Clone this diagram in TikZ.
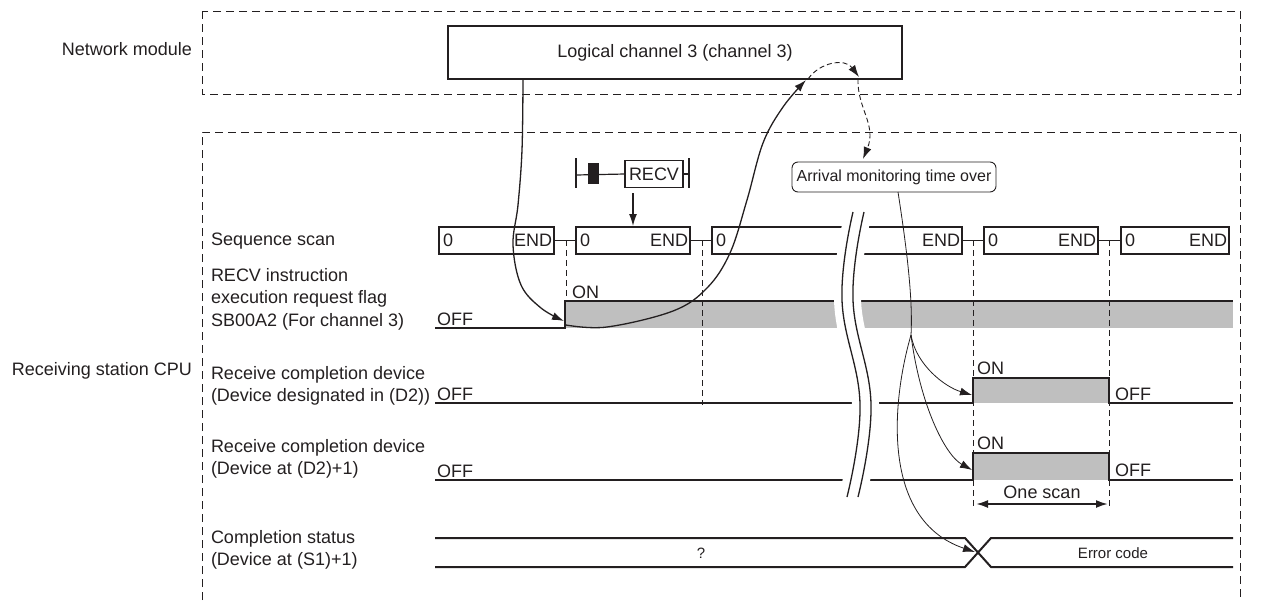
\documentclass[tikz,border=0pt]{standalone}
\usepackage{fontspec}
\setmainfont{Liberation Sans}
\usetikzlibrary{arrows.meta}
\definecolor{sg}{gray}{0.75}
\definecolor{ink}{HTML}{231F20}
\begin{document}
\begin{tikzpicture}[x=1pt,y=-1pt,
  every node/.style={inner sep=0pt, outer sep=0pt, text=ink},
  lbl/.style={font=\fontsize{18}{22.5}\selectfont},
  smalltxt/.style={font=\fontsize{15}{18}\selectfont},
  frame/.style={draw=ink, dash pattern=on 8pt off 5pt, line width=1},
  tdash/.style={draw=ink, dash pattern=on 6pt off 4pt, line width=0.9},
  scanbox/.style={draw=ink, line width=1.2, minimum height=27pt, anchor=north west},
  sig/.style={draw=ink, line width=2},
  arr/.style={draw=ink, -{Latex[length=12pt,width=8pt]}, line width=1.3},
  thinarr/.style={draw=ink, -{Latex[length=12pt,width=8pt]}, line width=0.8},
  thinl/.style={draw=ink, line width=0.8},
  dasharr/.style={draw=ink, dash pattern=on 5pt off 3pt, line width=0.9, -{Latex[length=12pt,width=8pt]}},
]
\useasboundingbox (0,0) rectangle (1272,603);

% frames
\draw[frame] (202,11) rectangle (1240,94);
\draw[frame] (202,600) -- (202,132) -- (1240,132) -- (1240,600);

% left titles
\node[lbl, anchor=base east] (nm) at (192,55) {Network module};
\node[lbl, anchor=base east] (rcpu) at (192,375) {Receiving station CPU};

\node[lbl, anchor=base west] (l1) at (211,245) {Sequence scan};
\node[lbl, anchor=base west] (l2a) at (211,281) {RECV instruction};
\node[lbl, anchor=base west] (l2b) at (211,303.5) {execution request flag};
\node[lbl, anchor=base west] (l2c) at (211,326) {SB00A2 (For channel 3)};
\node[lbl, anchor=base west] (l3a) at (211,379) {Receive completion device};
\node[lbl, anchor=base west] (l3b) at (211,401.5) {(Device designated in (D2))};
\node[lbl, anchor=base west] (l4a) at (211,452) {Receive completion device};
\node[lbl, anchor=base west] (l4b) at (211,474.5) {(Device at (D2)+1)};
\node[lbl, anchor=base west] (l5a) at (211,543) {Completion status};
\node[lbl, anchor=base west] (l5b) at (211,565.5) {(Device at (S1)+1)};

% logical channel box
\node[draw=ink, line width=1.3, minimum width=454pt, minimum height=53pt, lbl] (lc) at (675,52.5) {Logical channel 3 (channel 3)};

% arrival monitoring box
\node[draw=ink, rounded corners=6pt, line width=0.9, minimum width=204pt, minimum height=30pt, font=\fontsize{16}{19}\selectfont] (amt) at (894,177) {Arrival monitoring time over};

% sequence scan boxes
\node[scanbox, minimum width=115pt] (s1) at (439,227) {};
\node[scanbox, minimum width=114pt] (s2) at (576,227) {};
\node[scanbox, minimum width=250pt] (s3) at (712,227) {};
\node[scanbox, minimum width=114pt] (s4) at (984,227) {};
\node[scanbox, minimum width=108pt] (s5) at (1121,227) {};
\foreach \b in {s1,s2,s3,s4,s5}{
  \node[lbl, anchor=west] (\b z) at ([xshift=4pt]\b.west) {0};
}
\foreach \b in {s1,s2,s3,s4,s5}{
  \node[lbl, anchor=east] (\b e) at ([xshift=-2pt]\b.east) {END};
}
\draw[ink, line width=1.2] (s1.east) -- (s2.west);
\draw[ink, line width=1.2] (s2.east) -- (s3.west);
\draw[ink, line width=1.2] (s3.east) -- (s4.west);
\draw[ink, line width=1.6] (s4.east) -- (s5.west);

% RECV ladder symbol
\coordinate (ra) at (576,175);
\draw[ink, line width=1.6] (576,158) -- (576,188);
\fill[ink] (588,163) rectangle (599,184);
\node[draw=ink, line width=1.2, minimum width=58pt, minimum height=27pt, lbl, anchor=west] (recv) at (625,174) {RECV};
\draw[ink, line width=1.2] (ra) -- (recv.west);
\coordinate (rb) at (689,174);
\draw[ink, line width=1.2] (recv.east) -- (rb);
\draw[ink, line width=1.6] (689,158) -- (689,188);
\coordinate (ra1) at (633,193);
\coordinate (ra2) at (633,226);
\draw[arr] (ra1) -- (ra2);

% signals
\fill[sg] (565,301) rectangle (1233,328);
\draw[sig] (435,328) -- (565,328) -- (565,301) -- (1233,301);
\fill[sg] (973,378) rectangle (1109,403);
\draw[sig] (435,403) -- (973,403) -- (973,378) -- (1109,378) -- (1109,403) -- (1233,403);
\fill[sg] (973,453) rectangle (1109,480);
\draw[sig] (435,480) -- (973,480) -- (973,453) -- (1109,453) -- (1109,480) -- (1233,480);
\draw[sig] (435,538) -- (965,538) -- (991,567) -- (1233,567);
\draw[sig] (435,567) -- (965,567) -- (991,538) -- (1233,538);
\node[smalltxt] (q) at (701,553) {?};
\node[smalltxt] (err) at (1113,553) {Error code};

% ON/OFF labels
\node[lbl, anchor=base west] (off1) at (437,325) {OFF};
\node[lbl, anchor=base west] (on1) at (572,298) {ON};
\node[lbl, anchor=base west] (off2) at (437,400) {OFF};
\node[lbl, anchor=base west] (on2) at (977,374) {ON};
\node[lbl, anchor=base west] (off2r) at (1115,400) {OFF};
\node[lbl, anchor=base west] (off3) at (437,477) {OFF};
\node[lbl, anchor=base west] (on3) at (977,449) {ON};
\node[lbl, anchor=base west] (off3r) at (1115,476) {OFF};

% timing dashes
\draw[tdash] (566,240) -- (566,301);
\draw[tdash] (702,240) -- (702,405);
\draw[tdash] (973,240) -- (973,507);
\draw[tdash] (1109,240) -- (1109,507);

% one scan
\coordinate (osa) at (976,504);
\coordinate (osb) at (1108,504);
\draw[draw=ink, line width=2, {Latex[length=12pt,width=8pt]}-{Latex[length=12pt,width=8pt]}] (osa) -- (osb);
\node[lbl, anchor=base] (os) at (1042,498) {One scan};

% break
\draw[white, line width=27pt] plot[smooth, tension=0.7] coordinates {(858.5,212) (847.5,300) (865.5,404) (852.5,497)};
\draw[ink, line width=1.3] plot[smooth, tension=0.7] coordinates {(853,212) (842,300) (860,404) (847,497)};
\draw[ink, line width=1.3] plot[smooth, tension=0.7] coordinates {(864,212) (853,300) (871,404) (858,497)};

% big arrows
\draw[arr] plot[smooth, tension=0.6] coordinates {(523,79) (522,150) (518,205) (513,245) (521,285) (541,308) (564,321)};
\draw[arr] plot[smooth, tension=0.6] coordinates {(566,325) (607,327) (673,311) (707,288) (730,253) (747,200) (763,143) (783,107) (806,80)};

% dashed arrows
\coordinate (da0) at (808,79);
\coordinate (da1) at (859,77);
\draw[dasharr] (da0) .. controls (820,62) and (845,58) .. (da1);
\coordinate (db0) at (858,79);
\coordinate (db1) at (863,159);
\draw[dasharr] (db0) .. controls (857,108) and (877,125) .. (db1);

% thin arrows from arrival monitoring
\coordinate (br) at (911,335);
\draw[thinl] ([xshift=4pt]amt.south) .. controls (907,250) and (913,300) .. (br);
\draw[thinarr] (br) .. controls (916,365) and (945,387) .. (972,395);
\draw[thinarr] (br) .. controls (920,405) and (945,455) .. (972,470);
\draw[thinarr] (br) .. controls (892,400) and (880,520) .. (975,552);
\end{tikzpicture}
\end{document}
